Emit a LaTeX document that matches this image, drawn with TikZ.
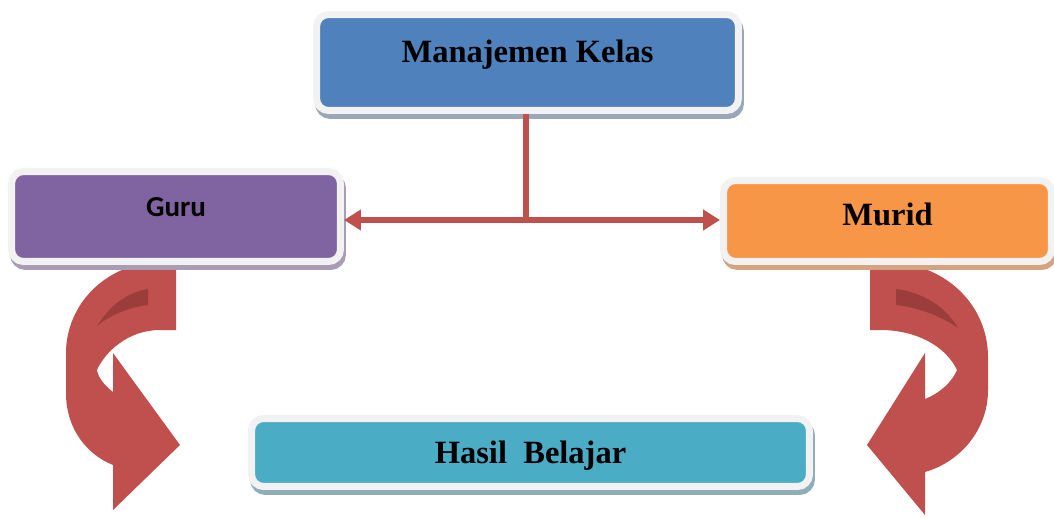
\documentclass[tikz,border=0pt]{standalone}
\usepackage{fontspec}
\setmainfont{Liberation Serif}
\newfontfamily\calibri{Carlito}
\usetikzlibrary{arrows.meta,shadows,backgrounds}

\definecolor{frame}{HTML}{F2F2F2}
\definecolor{kelasfill}{HTML}{4F81BD}
\definecolor{kelasshade}{HTML}{9AA7B8}
\definecolor{gurufill}{HTML}{8064A2}
\definecolor{gurushade}{HTML}{A99DB6}
\definecolor{muridfill}{HTML}{F79646}
\definecolor{muridshade}{HTML}{D5A37F}
\definecolor{hasilfill}{HTML}{4BACC6}
\definecolor{hasilshade}{HTML}{90AEBA}
\definecolor{linkred}{HTML}{C0504D}
\definecolor{darkred}{HTML}{9B3D3B}

\begin{document}
\begin{tikzpicture}[
  x=0.02cm, y=-0.02cm,
  box/.style 2 args={rectangle, rounded corners=0.24cm, draw=frame,
              line width=0.14cm, fill=#1, inner sep=0pt,
              text height=7pt, text depth=7.1pt,
              general shadow={fill=#2, draw=#2, line width=0.14cm,
                              shadow xshift=0.04cm, shadow yshift=-0.1cm}},
  serif/.style={font=\bfseries\fontsize{18.5}{22}\selectfont},
  link/.style={linkred, line width=0.13cm},
  tip/.style={-{Triangle[length=0.34cm,width=0.4cm]}}
]
  \useasboundingbox (0,0) rectangle (1054,517);

  % the four boxes
  \node[box={kelasfill}{kelasshade}, serif, minimum width=8.44cm,
        minimum height=1.92cm] (kelas) at (527.5,62.5) {Manajemen Kelas};
  \node[box={gurufill}{gurushade}, font=\calibri\bfseries\fontsize{16.5}{20}\selectfont,
        minimum width=6.58cm, minimum height=1.8cm] (guru) at (176,216.5) {Guru};
  \node[box={muridfill}{muridshade}, serif, minimum width=6.56cm,
        minimum height=1.62cm, text depth=1.6pt] (murid) at (887.5,221) {Murid};
  \node[box={hasilfill}{hasilshade}, serif, minimum width=11.16cm,
        minimum height=1.36cm, text height=13pt, text depth=0pt]
        (hasil) at (530.5,452.5) {Hasil\ \ Belajar};

  % split from the top box to both sides
  \coordinate (split) at (526,220);
  \draw[link] (kelas.south -| split) -- (split);
  \draw[link, tip] (split) -- (split -| guru.east);
  \draw[link, tip] (split) -- (split -| murid.west);

  % bent arrows down to the result box
  \begin{scope}[on background layer]
    \fill[linkred] (176,262) -- (158,262) .. controls (105,264) and (66,305) .. (66,353)
      -- (66,393) .. controls (66,430) and (88,455) .. (113,465)
      -- (113,510) -- (180,445) -- (113,353) -- (113,392)
      .. controls (104,385) and (98,377) .. (97,370)
      .. controls (105,352) and (128,330) .. (160,330) -- (176,330) -- cycle;
    \fill[darkred] (148,289) -- (148,305) .. controls (130,307) and (110,315) .. (97,326)
      .. controls (110,305) and (128,292) .. (148,289) -- cycle;

    \fill[linkred] (870,262) -- (885,262) .. controls (945,262) and (988,305) .. (988,357)
      -- (988,390) .. controls (988,430) and (960,462) .. (925,472)
      -- (925,515) -- (867,445) -- (925,353) -- (925,399)
      .. controls (940,393) and (952,382) .. (957,370)
      .. controls (945,345) and (915,330) .. (880,330) -- (870,330) -- cycle;
    \fill[darkred] (896,289) -- (896,305) .. controls (915,307) and (940,315) .. (958,328)
      .. controls (945,305) and (920,292) .. (896,289) -- cycle;
  \end{scope}
\end{tikzpicture}
\end{document}
